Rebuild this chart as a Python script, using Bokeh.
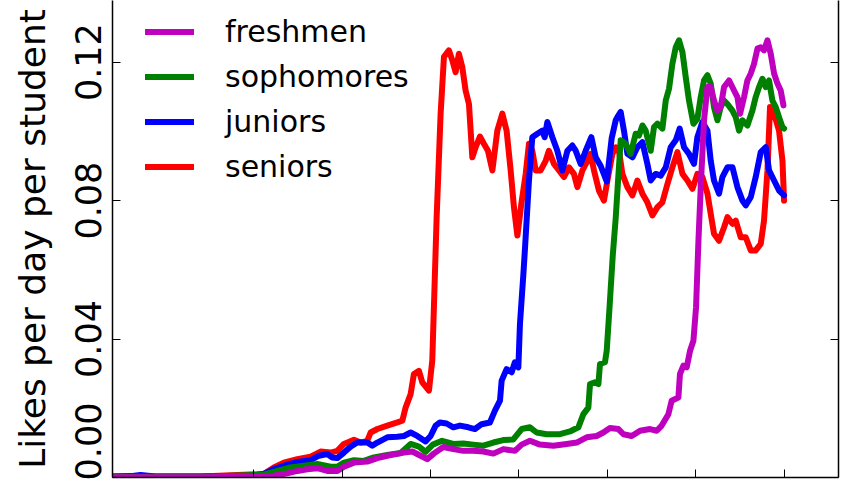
from bokeh.plotting import figure
from bokeh.models import (Range1d, LinearAxis, FixedTicker, CustomJSTickFormatter,
                          Legend, LegendItem)
from bokeh.embed import file_html
from bokeh.resources import INLINE

# ---- data (time in years, likes per day per student) ----
x_ticks = [2006, 2007, 2008, 2009, 2010, 2011, 2012]
y_ticks = [0.00, 0.04, 0.08, 0.12]
y_tick_labels = {0.00: "0.00", 0.04: "0.04", 0.08: "0.08", 0.12: "0.12"}
y_label = "Likes per day per student"

series_names = ["freshmen", "sophomores", "juniors", "seniors"]
series_colors = ["#BF00BF", "#008000", "#0000FF", "#FF0000"]

seniors = [
    (2004.400, 0.0003), (2005.396, 0.0003), (2006.110, 0.0010), (2006.226, 0.0029),
    (2006.339, 0.0043), (2006.491, 0.0053), (2006.642, 0.0060), (2006.755, 0.0075),
    (2006.868, 0.0072), (2006.944, 0.0077), (2007.019, 0.0097), (2007.132, 0.0109),
    (2007.208, 0.0101), (2007.283, 0.0106), (2007.321, 0.0130), (2007.397, 0.0140),
    (2007.510, 0.0150), (2007.623, 0.0159), (2007.680, 0.0164), (2007.717, 0.0202),
    (2007.774, 0.0241), (2007.811, 0.0299), (2007.868, 0.0308), (2007.906, 0.0275),
    (2007.981, 0.0251), (2008.019, 0.0338), (2008.068, 0.0750), (2008.113, 0.1050),
    (2008.151, 0.1215), (2008.207, 0.1234), (2008.246, 0.1205), (2008.283, 0.1171),
    (2008.320, 0.1224), (2008.359, 0.1185), (2008.396, 0.1118), (2008.434, 0.1079),
    (2008.472, 0.0925), (2008.509, 0.0954), (2008.558, 0.0985), (2008.603, 0.0964),
    (2008.649, 0.0944), (2008.699, 0.0887), (2008.755, 0.1002), (2008.812, 0.1051),
    (2008.860, 0.1002), (2008.906, 0.0887), (2008.943, 0.0781), (2008.982, 0.0699),
    (2009.027, 0.0791), (2009.076, 0.0877), (2009.113, 0.0964), (2009.151, 0.0944),
    (2009.189, 0.0887), (2009.245, 0.0887), (2009.302, 0.0915), (2009.339, 0.0944),
    (2009.396, 0.0906), (2009.453, 0.0887), (2009.509, 0.0868), (2009.566, 0.0896),
    (2009.622, 0.0877), (2009.661, 0.0839), (2009.718, 0.0887), (2009.774, 0.0915),
    (2009.811, 0.0935), (2009.849, 0.0887), (2009.905, 0.0829), (2009.962, 0.0800),
    (2010.001, 0.0858), (2010.057, 0.0935), (2010.095, 0.0954), (2010.132, 0.0944),
    (2010.170, 0.0877), (2010.227, 0.0839), (2010.284, 0.0815), (2010.340, 0.0858),
    (2010.397, 0.0820), (2010.453, 0.0795), (2010.510, 0.0757), (2010.567, 0.0781),
    (2010.623, 0.0795), (2010.680, 0.0848), (2010.736, 0.0896), (2010.793, 0.0940),
    (2010.850, 0.0877), (2010.906, 0.0858), (2010.963, 0.0834), (2011.019, 0.0877),
    (2011.076, 0.0868), (2011.133, 0.0820), (2011.170, 0.0762), (2011.207, 0.0704),
    (2011.264, 0.0684), (2011.321, 0.0723), (2011.359, 0.0752), (2011.416, 0.0733),
    (2011.453, 0.0742), (2011.510, 0.0694), (2011.566, 0.0694), (2011.623, 0.0656),
    (2011.679, 0.0656), (2011.736, 0.0675), (2011.773, 0.0742), (2011.812, 0.0887),
    (2011.841, 0.1070), (2011.887, 0.1051), (2011.943, 0.1002), (2011.982, 0.0915),
    (2012.000, 0.0800),
]

juniors = [
    (2004.400, 0.0003), (2004.604, 0.0004), (2004.717, 0.0007), (2004.887, 0.0003),
    (2005.396, 0.0003), (2005.906, 0.0004), (2006.113, 0.0010), (2006.226, 0.0024),
    (2006.339, 0.0034), (2006.491, 0.0045), (2006.642, 0.0050), (2006.736, 0.0063),
    (2006.831, 0.0068), (2006.887, 0.0058), (2006.944, 0.0056), (2007.019, 0.0072),
    (2007.094, 0.0089), (2007.170, 0.0101), (2007.283, 0.0101), (2007.340, 0.0092),
    (2007.397, 0.0101), (2007.510, 0.0116), (2007.623, 0.0118), (2007.698, 0.0120),
    (2007.774, 0.0130), (2007.849, 0.0120), (2007.943, 0.0104), (2008.000, 0.0120),
    (2008.057, 0.0150), (2008.105, 0.0159), (2008.181, 0.0156), (2008.257, 0.0145),
    (2008.332, 0.0150), (2008.427, 0.0145), (2008.502, 0.0140), (2008.577, 0.0154),
    (2008.671, 0.0159), (2008.728, 0.0193), (2008.785, 0.0222), (2008.804, 0.0280),
    (2008.860, 0.0313), (2008.917, 0.0304), (2008.954, 0.0333), (2008.993, 0.0318),
    (2009.011, 0.0443), (2009.050, 0.0588), (2009.070, 0.0670), (2009.113, 0.0858),
    (2009.151, 0.0983), (2009.208, 0.0993), (2009.265, 0.1002), (2009.291, 0.0983),
    (2009.321, 0.1027), (2009.378, 0.0983), (2009.434, 0.0944), (2009.491, 0.0887),
    (2009.548, 0.0944), (2009.604, 0.0959), (2009.642, 0.0944), (2009.698, 0.0906),
    (2009.755, 0.0944), (2009.819, 0.0983), (2009.868, 0.0925), (2009.925, 0.0900),
    (2009.993, 0.0855), (2010.049, 0.0980), (2010.095, 0.1032), (2010.114, 0.1041),
    (2010.151, 0.1056), (2010.188, 0.1002), (2010.227, 0.0935), (2010.284, 0.0925),
    (2010.340, 0.0954), (2010.397, 0.0969), (2010.453, 0.0906), (2010.491, 0.0858),
    (2010.547, 0.0877), (2010.604, 0.0872), (2010.661, 0.0896), (2010.717, 0.0954),
    (2010.774, 0.0974), (2010.819, 0.1008), (2010.868, 0.0954), (2010.924, 0.0935),
    (2010.981, 0.0906), (2011.019, 0.0983), (2011.076, 0.1027), (2011.133, 0.1002),
    (2011.170, 0.0915), (2011.207, 0.0858), (2011.264, 0.0820), (2011.302, 0.0868),
    (2011.359, 0.0896), (2011.416, 0.0896), (2011.472, 0.0839), (2011.529, 0.0800),
    (2011.566, 0.0786), (2011.623, 0.0810), (2011.679, 0.0868), (2011.736, 0.0940),
    (2011.793, 0.0954), (2011.830, 0.0887), (2011.887, 0.0858), (2011.943, 0.0829),
    (2012.000, 0.0815),
]

sophomores = [
    (2004.400, 0.0002), (2005.396, 0.0002), (2006.113, 0.0008), (2006.265, 0.0019),
    (2006.415, 0.0029), (2006.566, 0.0034), (2006.717, 0.0039), (2006.868, 0.0031),
    (2006.944, 0.0031), (2007.019, 0.0043), (2007.132, 0.0050), (2007.245, 0.0048),
    (2007.358, 0.0058), (2007.510, 0.0065), (2007.660, 0.0071), (2007.774, 0.0097),
    (2007.868, 0.0089), (2007.943, 0.0074), (2008.025, 0.0095), (2008.130, 0.0106),
    (2008.257, 0.0097), (2008.370, 0.0098), (2008.483, 0.0095), (2008.597, 0.0092),
    (2008.710, 0.0101), (2008.823, 0.0108), (2008.936, 0.0110), (2009.030, 0.0140),
    (2009.124, 0.0145), (2009.200, 0.0130), (2009.313, 0.0125), (2009.464, 0.0125),
    (2009.577, 0.0133), (2009.672, 0.0145), (2009.729, 0.0183), (2009.785, 0.0202),
    (2009.804, 0.0270), (2009.860, 0.0275), (2009.899, 0.0270), (2009.917, 0.0328),
    (2009.973, 0.0333), (2009.993, 0.0366), (2010.027, 0.0500), (2010.061, 0.0640),
    (2010.095, 0.0750), (2010.117, 0.0840), (2010.151, 0.0974), (2010.208, 0.0964),
    (2010.264, 0.0935), (2010.321, 0.0993), (2010.358, 0.0988), (2010.397, 0.1017),
    (2010.434, 0.1002), (2010.491, 0.0944), (2010.528, 0.1012), (2010.567, 0.1022),
    (2010.623, 0.1008), (2010.661, 0.1089), (2010.698, 0.1123), (2010.736, 0.1195),
    (2010.774, 0.1243), (2010.811, 0.1263), (2010.850, 0.1229), (2010.887, 0.1157),
    (2010.924, 0.1089), (2010.974, 0.1022), (2011.019, 0.1036), (2011.057, 0.1099),
    (2011.094, 0.1147), (2011.133, 0.1162), (2011.170, 0.1138), (2011.207, 0.1070),
    (2011.246, 0.1032), (2011.283, 0.1070), (2011.321, 0.1089), (2011.359, 0.1079),
    (2011.416, 0.1060), (2011.453, 0.1041), (2011.490, 0.1002), (2011.529, 0.1032),
    (2011.585, 0.1017), (2011.642, 0.1060), (2011.679, 0.1099), (2011.717, 0.1128),
    (2011.755, 0.1152), (2011.793, 0.1128), (2011.830, 0.1147), (2011.868, 0.1089),
    (2011.906, 0.1070), (2011.943, 0.1041), (2011.982, 0.1012), (2012.000, 0.1008),
]

freshmen = [
    (2004.400, 0.0001), (2005.396, 0.0001), (2006.076, 0.0002), (2006.226, 0.0005),
    (2006.378, 0.0012), (2006.491, 0.0019), (2006.604, 0.0024), (2006.717, 0.0027),
    (2006.831, 0.0019), (2006.944, 0.0019), (2007.019, 0.0031), (2007.132, 0.0043),
    (2007.283, 0.0046), (2007.397, 0.0056), (2007.547, 0.0065), (2007.698, 0.0072),
    (2007.793, 0.0075), (2007.887, 0.0063), (2007.962, 0.0053), (2008.035, 0.0069),
    (2008.144, 0.0088), (2008.257, 0.0082), (2008.370, 0.0077), (2008.483, 0.0077),
    (2008.597, 0.0075), (2008.710, 0.0069), (2008.823, 0.0082), (2008.954, 0.0077),
    (2009.030, 0.0095), (2009.124, 0.0106), (2009.237, 0.0095), (2009.389, 0.0092),
    (2009.540, 0.0097), (2009.653, 0.0101), (2009.766, 0.0116), (2009.879, 0.0120),
    (2009.955, 0.0130), (2010.030, 0.0143), (2010.125, 0.0140), (2010.182, 0.0125),
    (2010.276, 0.0120), (2010.370, 0.0135), (2010.483, 0.0140), (2010.559, 0.0135),
    (2010.615, 0.0150), (2010.691, 0.0183), (2010.728, 0.0222), (2010.804, 0.0231),
    (2010.822, 0.0299), (2010.861, 0.0323), (2010.898, 0.0318), (2010.936, 0.0366),
    (2010.974, 0.0395), (2011.004, 0.0492), (2011.031, 0.0684), (2011.057, 0.0839),
    (2011.094, 0.1032), (2011.133, 0.1128), (2011.170, 0.1128), (2011.207, 0.1089),
    (2011.246, 0.1060), (2011.283, 0.1070), (2011.321, 0.1128), (2011.377, 0.1147),
    (2011.434, 0.1118), (2011.472, 0.1099), (2011.502, 0.1051), (2011.547, 0.1099),
    (2011.585, 0.1147), (2011.623, 0.1167), (2011.660, 0.1195), (2011.699, 0.1239),
    (2011.736, 0.1243), (2011.773, 0.1234), (2011.812, 0.1263), (2011.849, 0.1224),
    (2011.887, 0.1167), (2011.925, 0.1138), (2011.962, 0.1118), (2011.993, 0.1075),
]

series_data = {"freshmen": freshmen, "sophomores": sophomores,
               "juniors": juniors, "seniors": seniors}

FONT = "DejaVu Sans"

p = figure(width=852, height=480, output_backend="svg", toolbar_location=None,
           x_range=Range1d(2004.4, 2012.616), y_range=Range1d(0.0, 0.1378),
           min_border_left=112, min_border_right=14, min_border_top=0,
           min_border_bottom=3)
p.outline_line_color = None
p.grid.visible = False
p.background_fill_color = "white"
p.border_fill_color = "white"

# y axis (left)
ya = p.yaxis[0]
ya.ticker = FixedTicker(ticks=y_ticks)
ya.major_label_overrides = y_tick_labels
ya.major_label_orientation = "vertical"
ya.major_label_text_font = FONT
ya.major_label_text_font_size = "35px"
ya.major_label_text_color = "black"
ya.major_label_standoff = 11
ya.axis_label = y_label
ya.axis_label_text_font = FONT
ya.axis_label_text_font_size = "36px"
ya.axis_label_text_font_style = "normal"
ya.axis_label_text_color = "black"
ya.axis_label_standoff = 20
ya.major_tick_in = 8
ya.major_tick_out = 0
ya.minor_tick_line_color = None
ya.axis_line_width = 1.5
ya.major_tick_line_width = 1

# x axis (bottom) - its tick labels lie outside the visible window in the reference
xa = p.xaxis[0]
xa.ticker = FixedTicker(ticks=x_ticks)
xa.formatter = CustomJSTickFormatter(code="return ''")
xa.major_label_standoff = 0
xa.major_tick_in = 8
xa.major_tick_out = 0
xa.minor_tick_line_color = None
xa.axis_line_width = 1.5
xa.major_tick_line_width = 1

# right spine with inward ticks
ra = LinearAxis(ticker=FixedTicker(ticks=y_ticks),
                formatter=CustomJSTickFormatter(code="return ''"),
                major_label_standoff=0, major_tick_in=8, major_tick_out=0,
                minor_tick_line_color=None, axis_line_width=1.5,
                major_tick_line_width=1)
p.add_layout(ra, "right")

renderers = {}
draw_order = ["seniors", "juniors", "sophomores", "freshmen"]
for name in draw_order:
    pts = series_data[name]
    xs = [a for a, b in pts]
    ys = [b for a, b in pts]
    col = series_colors[series_names.index(name)]
    renderers[name] = p.line(xs, ys, line_color=col, line_width=6,
                             line_join="round", line_cap="round")

legend = Legend(items=[LegendItem(label=n, renderers=[renderers[n]]) for n in series_names],
                location=(33, 293), orientation="vertical",
                glyph_width=49, glyph_height=35, label_standoff=31,
                label_text_font=FONT, label_text_font_size="30px",
                label_text_color="black", spacing=10, padding=0, margin=0,
                border_line_color=None, background_fill_alpha=0.0)
p.add_layout(legend, "center")

open("out.html", "w").write(file_html(p, INLINE))
